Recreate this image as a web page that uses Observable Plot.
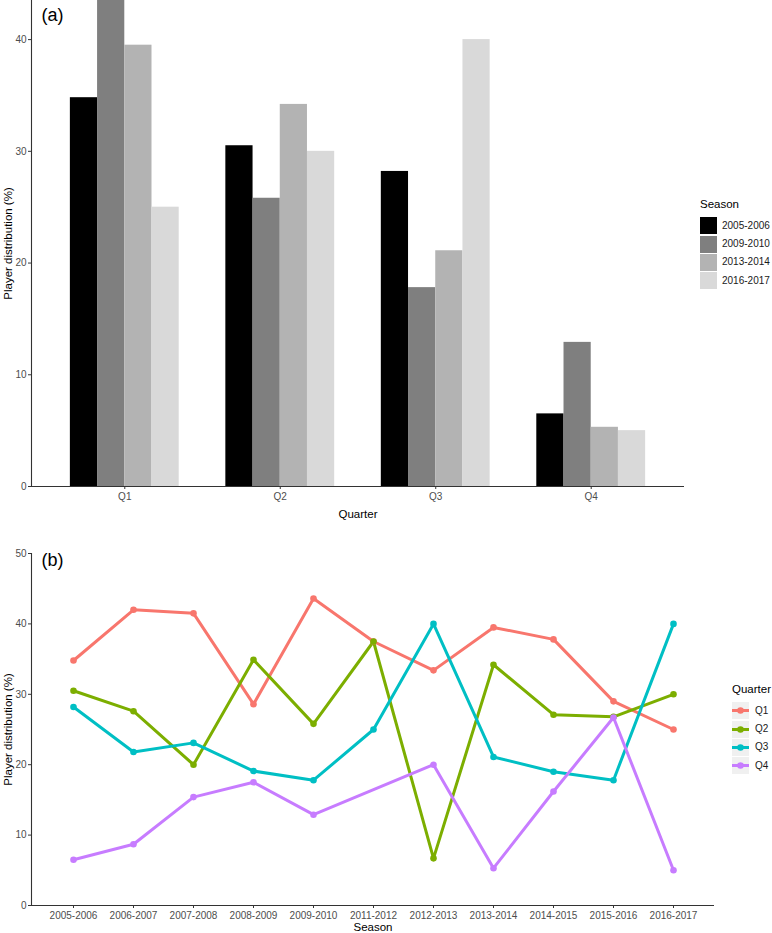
<!DOCTYPE html>
<html>
<head>
<meta charset="utf-8">
<script src="https://cdn.jsdelivr.net/npm/d3@7"></script>
<script src="https://cdn.jsdelivr.net/npm/@observablehq/plot@0.6"></script>
<style>
  body { margin: 0; background: #fff; font-family: "Liberation Sans", Arial, sans-serif; }
  #wrap { position: relative; width: 772px; height: 933px; overflow: hidden; }
  #pa { position: absolute; left: 0; top: 0; }
  #pb { position: absolute; left: 0; top: 530px; }
  svg g[aria-label$="tick label"] { fill: #4d4d4d; }
  svg g[aria-label$="-axis label"] { fill: #000; font-size: 11.5px; }
  .leg { position: absolute; font-size: 10px; color: #1a1a1a; line-height: 1; }
  .leg .t { font-size: 11.5px; color: #000; margin-bottom: 6px; }
  .leg .row { display: flex; align-items: center; height: 18.4px; }
  .leg .sw { width: 17px; height: 17px; margin-right: 5px; }
  .leg .key { width: 17px; height: 17px; margin-right: 6px; background: #f0f0f0; display: block; }
</style>
</head>
<body>
<div id="wrap">
  <div id="pa"></div>
  <div id="pb"></div>
  <div class="leg" id="legA" style="left:700px; top:199px;"></div>
  <div class="leg" id="legB" style="left:732px; top:684px;"></div>
</div>
<script>
// ---------- data ----------
const quarters = ["Q1", "Q2", "Q3", "Q4"];
const seasons = ["2005-2006", "2006-2007", "2007-2008", "2008-2009", "2009-2010",
                 "2011-2012", "2012-2013", "2013-2014", "2014-2015", "2015-2016", "2016-2017"];
const q1 = [34.8, 42.0, 41.5, 28.6, 43.6, 37.5, 33.4, 39.5, 37.8, 29.0, 25.0];
const q2 = [30.5, 27.6, 20.0, 34.9, 25.8, 37.5, 6.7, 34.2, 27.1, 26.8, 30.0];
const q3 = [28.2, 21.8, 23.1, 19.1, 17.8, 25.0, 40.0, 21.1, 19.0, 17.8, 40.0];
const q4 = [6.5, 8.7, 15.4, 17.5, 12.9, null, 20.0, 5.3, 16.2, 26.7, 5.0];
const barSeasons = ["2005-2006", "2009-2010", "2013-2014", "2016-2017"];
const yTicksA = [0, 10, 20, 30, 40];
const yTicksB = [0, 10, 20, 30, 40, 50];

// ---------- styles ----------
const barFill = ["#000000", "#7f7f7f", "#b3b3b3", "#d9d9d9"];
const lineColors = ["#F8766D", "#7CAE00", "#00BFC4", "#C77CFF"];
const font = "'Liberation Sans', Arial, sans-serif";
const axisColor = "#333333";

const byQuarter = {Q1: q1, Q2: q2, Q3: q3, Q4: q4};

// long-format rows
const lineRows = [];
quarters.forEach(q => seasons.forEach((s, i) => {
  const v = byQuarter[q][i];
  if (v != null) lineRows.push({quarter: q, season: s, value: v});
}));
const barRows = [];
quarters.forEach((q, qi) => barSeasons.forEach((s, si) => {
  barRows.push({quarter: q, qi, season: s, si, value: byQuarter[q][seasons.indexOf(s)]});
}));

// ---------- panel (a) ----------
const dodge = 0.7, bw = dodge / barSeasons.length;
const plotA = Plot.plot({
  width: 772, height: 530,
  marginLeft: 31, marginRight: 88, marginTop: 0, marginBottom: 44,
  style: {fontFamily: font, fontSize: "10px", background: "transparent"},
  x: {domain: [-0.6, quarters.length - 1 + 0.6]},
  y: {domain: [0, 43.5]},
  color: {domain: barSeasons, range: barFill},
  marks: [
    Plot.rect(barRows, {
      x1: d => d.qi - dodge / 2 + d.si * bw,
      x2: d => d.qi - dodge / 2 + (d.si + 1) * bw,
      y1: 0, y2: "value", fill: "season", clip: true
    }),
    Plot.ruleY([0], {stroke: axisColor, strokeWidth: 1.1}),
    Plot.frame({anchor: "left", stroke: axisColor, strokeWidth: 1.1}),
    Plot.axisY({ticks: yTicksA, tickSize: 3, tickPadding: 2, stroke: axisColor,
      label: "Player distribution (%)", labelAnchor: "center", labelArrow: "none"}),
    Plot.axisX({ticks: d3.range(quarters.length), tickFormat: i => quarters[i],
      tickSize: 3, tickPadding: 3, stroke: axisColor,
      label: "Quarter", labelAnchor: "center", labelArrow: "none", labelOffset: 31}),
    Plot.text(["(a)"], {frameAnchor: "top-left", lineAnchor: "top", textAnchor: "start",
      dx: 10, dy: 8, fontSize: 18, fill: "#000"})
  ]
});
document.getElementById("pa").appendChild(plotA);

// ---------- panel (b) ----------
const plotB = Plot.plot({
  width: 772, height: 403,
  marginLeft: 31, marginRight: 58, marginTop: 23, marginBottom: 28,
  style: {fontFamily: font, fontSize: "10px", background: "transparent"},
  x: {type: "point", domain: seasons, padding: 0.6},
  y: {domain: [0, 50]},
  color: {domain: quarters, range: lineColors},
  marks: [
    Plot.ruleY([0], {stroke: axisColor, strokeWidth: 1.1}),
    Plot.frame({anchor: "left", stroke: axisColor, strokeWidth: 1.1}),
    Plot.axisY({ticks: yTicksB, tickSize: 3, tickPadding: 2, stroke: axisColor,
      label: "Player distribution (%)", labelAnchor: "center", labelArrow: "none"}),
    Plot.axisX({tickSize: 3, tickPadding: 3, stroke: axisColor,
      label: "Season", labelAnchor: "center", labelArrow: "none"}),
    Plot.line(lineRows, {x: "season", y: "value", z: "quarter", stroke: "quarter", strokeWidth: 3}),
    Plot.dot(lineRows, {x: "season", y: "value", fill: "quarter", r: 3.3}),
    Plot.text(["(b)"], {frameAnchor: "top-left", lineAnchor: "top", textAnchor: "start",
      dx: 10, dy: 0, fontSize: 18, fill: "#000"})
  ]
});
document.getElementById("pb").appendChild(plotB);

// ---------- legends ----------
const legA = document.getElementById("legA");
legA.innerHTML = `<div class="t">Season</div>` + barSeasons.map((s, i) =>
  `<div class="row"><span class="sw" style="background:${barFill[i]}"></span><span>${s}</span></div>`).join("");

const legB = document.getElementById("legB");
legB.innerHTML = `<div class="t">Quarter</div>` + quarters.map((q, i) =>
  `<div class="row"><svg class="key" width="17" height="17"><line x1="0" x2="17" y1="8.5" y2="8.5" stroke="${lineColors[i]}" stroke-width="3"/><circle cx="8.5" cy="8.5" r="3.3" fill="${lineColors[i]}"/></svg><span>${q}</span></div>`).join("");
</script>
</body>
</html>
